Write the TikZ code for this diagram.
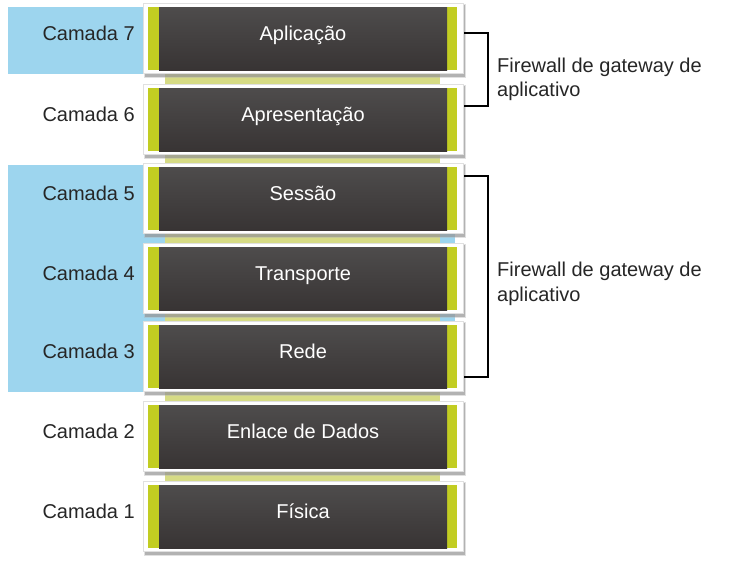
\documentclass[tikz,border=0pt]{standalone}
\usepackage{fontspec}
\setmainfont{Liberation Sans}
\begin{document}
\begin{tikzpicture}[x=1pt,y=-1pt,
  lbl/.style={anchor=base east,text=black!85,font=\fontsize{20}{24}\selectfont,inner sep=0pt},
  boxtxt/.style={anchor=base,text=white,font=\fontsize{20}{24}\selectfont,inner sep=0pt},
  fwtxt/.style={anchor=base west,align=left,text=black!85,font=\fontsize{20}{24.5}\selectfont,inner sep=0pt},
  bluezone/.style={fill=zoneblue,draw=none},
  bracket/.style={draw=black,line width=1.3pt}]
\definecolor{zoneblue}{HTML}{9DD5EE}
\definecolor{limegreen}{HTML}{C2CD22}
\definecolor{stripgreen}{HTML}{D6DB85}
\definecolor{darktop}{HTML}{4E4C4C}
\definecolor{darkbot}{HTML}{383434}
\useasboundingbox (0,0) rectangle (739,574);
% blue zones
\fill[bluezone] (8,7) rectangle (455,74);
\fill[bluezone] (8,165) rectangle (455,392);
% connecting strip
\fill[stripgreen] (165,20) rectangle (440,540);
% layer boxes
\foreach \t/\name/\lay/\nm in {3/Aplicação/7/b7,84/Apresentação/6/b6,163/Sessão/5/b5,243/Transporte/4/b4,321/Rede/3/b3,401/Enlace de Dados/2/b2,481/Física/1/b1}{
  \fill[black!55,opacity=0.55] (145,\t+2) rectangle (465,\t+73.5);
  \fill[black!30,opacity=0.4] (144,\t+1) rectangle (466,\t+75);
  \fill[white] (143,\t) rectangle (463,\t+70);
  \draw[black!12,line width=0.4pt] (143,\t) rectangle (463,\t+70);
  \fill[limegreen] (148,\t+4) rectangle (457,\t+67);
  \shade[top color=darktop,bottom color=darkbot] (159,\t+4) rectangle (447,\t+67);
  \node[boxtxt] (\nm) at (303,\t+37) {\name};
  \node[lbl] (c\lay) at (135,\t+37) {Camada \lay};
}
% brackets
\coordinate (u1) at (464,33);
\coordinate (u2) at (488,106);
\coordinate (u3) at (464,106);
\draw[bracket] (u1) -| (u2) -- (u3);
\coordinate (l1) at (464,176);
\coordinate (l2) at (488,377);
\coordinate (l3) at (464,377);
\draw[bracket] (l1) -| (l2) -- (l3);
\node[fwtxt] (fw1) at (497,96.5) {Firewall de gateway de\\aplicativo};
\node[fwtxt] (fw2) at (497,301) {Firewall de gateway de\\aplicativo};
\end{tikzpicture}
\end{document}
